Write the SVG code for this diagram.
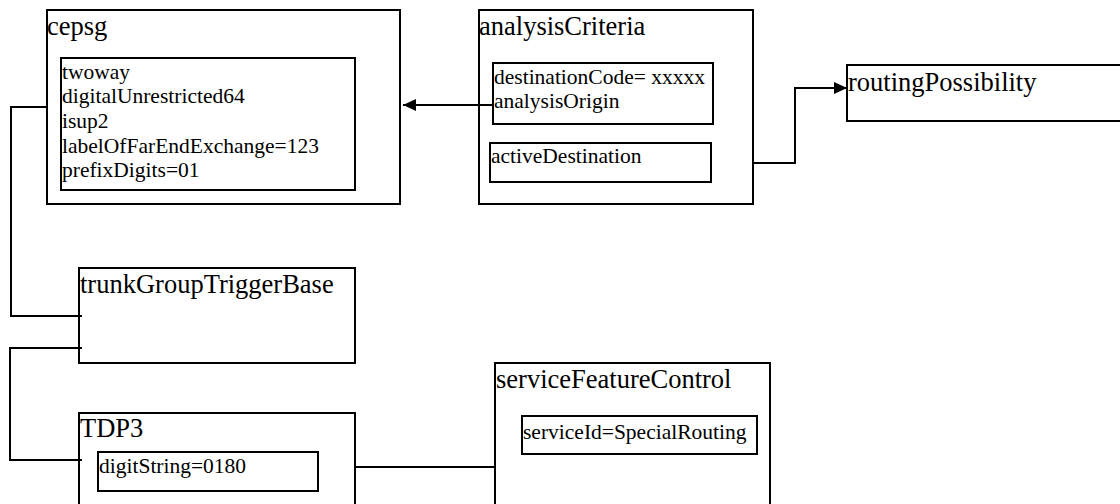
<svg xmlns="http://www.w3.org/2000/svg" width="1120" height="504" viewBox="0 0 1120 504">
  <style>
    .box { fill: #ffffff; stroke: #000000; stroke-width: 2; }
    .inner { fill: #ffffff; stroke: #000000; stroke-width: 2; }
    text { font-family: 'Liberation Serif', 'DejaVu Serif', 'Times New Roman', Times, serif; fill: #000000; }
    .title { font-size: 26.5px; }
    .attr { font-size: 21.5px; }
    .conn { fill: none; stroke: #000000; stroke-width: 2; }
  </style>
  <defs>
    <marker id="arrow" viewBox="0 0 13 12" refX="13" refY="6" markerWidth="13" markerHeight="12" markerUnits="userSpaceOnUse" orient="auto">
      <path d="M0,0 L13,6 L0,12 Z" fill="#000000"/>
    </marker>
  </defs>
  <rect width="1120" height="504" fill="#ffffff"/>

  <g id="cepsg">
    <rect class="box" x="47" y="10" width="353" height="194"/>
    <text class="title" x="47" y="35">cepsg</text>
    <rect class="inner" x="61" y="58" width="294" height="132"/>
    <text class="attr" x="62" y="78.5">twoway</text>
    <text class="attr" x="62" y="103.2">digitalUnrestricted64</text>
    <text class="attr" x="62" y="127.9">isup2</text>
    <text class="attr" x="62" y="152.6">labelOfFarEndExchange=123</text>
    <text class="attr" x="62" y="177.3">prefixDigits=01</text>
  </g>

  <g id="analysisCriteria">
    <rect class="box" x="479" y="10" width="274" height="194"/>
    <text class="title" x="479" y="35">analysisCriteria</text>
    <rect class="inner" x="493" y="63" width="220" height="61"/>
    <text class="attr" x="494" y="84">destinationCode= xxxxx</text>
    <text class="attr" x="494" y="108">analysisOrigin</text>
    <rect class="inner" x="490" y="143" width="221" height="39"/>
    <text class="attr" x="491" y="163">activeDestination</text>
  </g>

  <g id="routingPossibility">
    <rect class="box" x="847" y="65" width="290" height="56"/>
    <text class="title" x="848" y="91">routingPossibility</text>
  </g>

  <g id="trunkGroupTriggerBase">
    <rect class="box" x="79" y="268" width="276" height="95"/>
    <text class="title" x="80" y="292.5">trunkGroupTriggerBase</text>
  </g>

  <g id="TDP3">
    <rect class="box" x="79" y="413" width="276" height="110"/>
    <text class="title" x="80" y="437">TDP3</text>
    <rect class="inner" x="98" y="452" width="220" height="39"/>
    <text class="attr" x="99" y="473">digitString=0180</text>
  </g>

  <g id="serviceFeatureControl">
    <rect class="box" x="495" y="363" width="275" height="160"/>
    <text class="title" x="496" y="388">serviceFeatureControl</text>
    <rect class="inner" x="522" y="416" width="235" height="38"/>
    <text class="attr" x="523" y="439">serviceId=SpecialRouting</text>
  </g>

  <g id="connectors">
    <path class="conn" d="M493,105 L403,105" marker-end="url(#arrow)"/>
    <path class="conn" d="M753,163 L795,163 L795,88 L847,88" marker-end="url(#arrow)"/>
    <path class="conn" d="M47,107 L11,107 L11,316 L82,316"/>
    <path class="conn" d="M82,348 L10,348 L10,460 L82,460"/>
    <path class="conn" d="M355,467 L496,467"/>
  </g>
</svg>
